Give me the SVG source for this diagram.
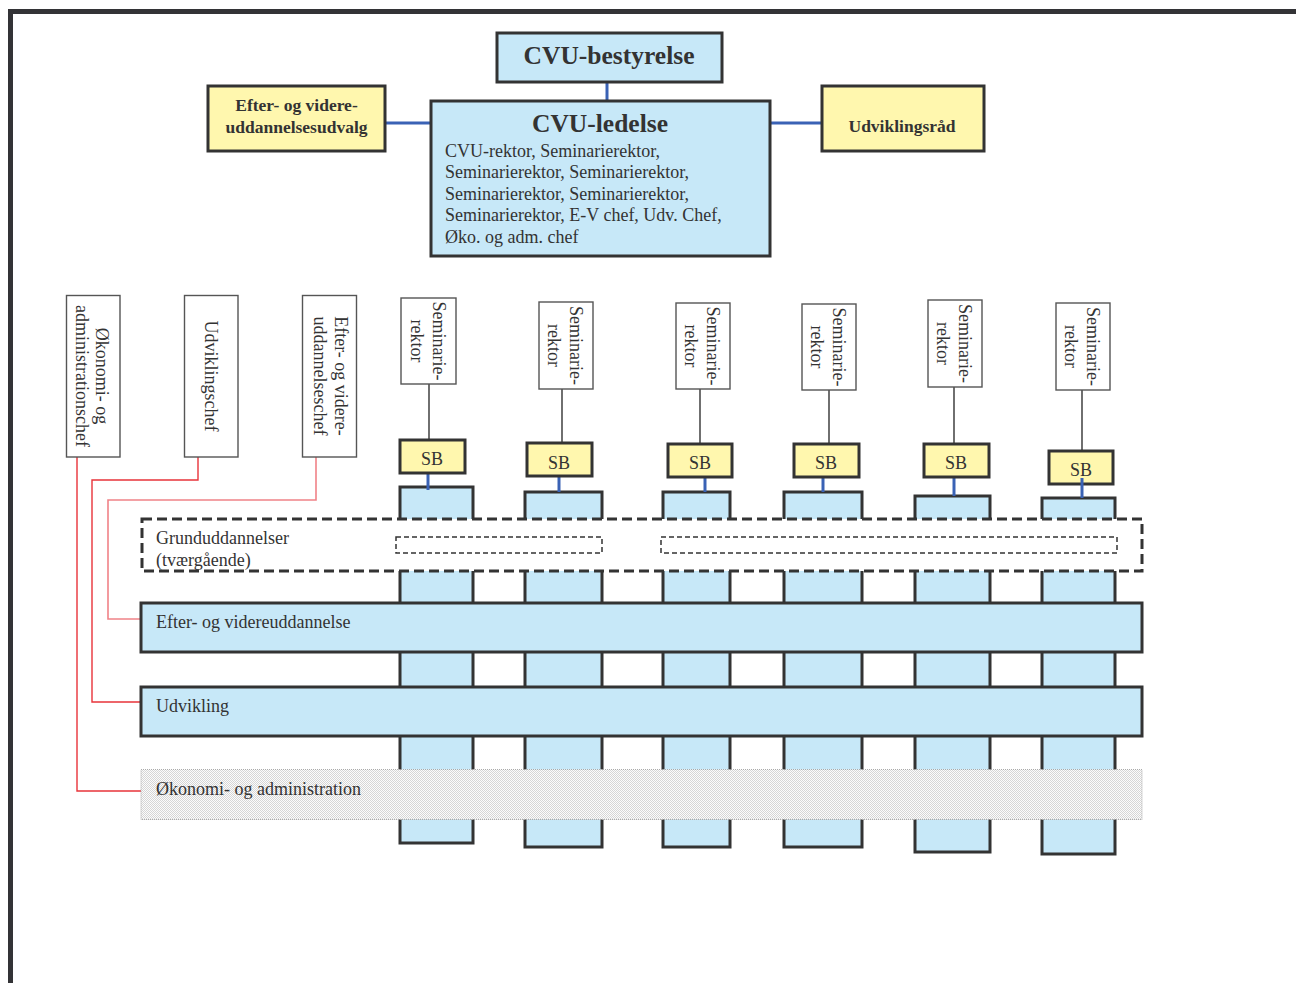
<svg xmlns="http://www.w3.org/2000/svg" width="1296" height="983" viewBox="0 0 1296 983">
<style>
.frame{fill:none;stroke:#333336;stroke-width:5}
.yel{fill:#fff7ae;stroke:#333;stroke-width:3}
.blu{fill:#c7e8f8;stroke:#333;stroke-width:3}
.thin{fill:#fff;stroke:#555;stroke-width:1.4}
.blue-ln{stroke:#3a62b5;stroke-width:3;fill:none}
.gray-ln{stroke:#333;stroke-width:1.4;fill:none}
.red-ln{stroke:#e8333a;stroke-width:1.4;fill:none}
.pink-ln{stroke:#f08288;stroke-width:1.6;fill:none}
.t{font-family:"Liberation Serif","Times New Roman",serif;fill:#333;font-size:18px}
.b{font-family:"Liberation Serif","Times New Roman",serif;fill:#333;font-weight:bold}
.r{font-family:"Liberation Serif","Times New Roman",serif;fill:#333;font-size:18px;text-anchor:middle}
.c{text-anchor:middle}
</style>
<defs>
<pattern id="stip" width="2" height="2" patternUnits="userSpaceOnUse">
<rect width="2" height="2" fill="#fcfcfc"/>
<rect width="1" height="1" fill="#d6d6d6"/>
<rect x="1" y="1" width="1" height="1" fill="#d6d6d6"/>
</pattern>
</defs>
<rect width="1296" height="983" fill="#fff"/>
<path class="frame" d="M10.5,983 V11.5 H1296"/>

<g id="connectors">
<line class="blue-ln" x1="607" y1="82" x2="607" y2="101"/>
<line class="blue-ln" x1="385" y1="123" x2="431" y2="123"/>
<line class="blue-ln" x1="770" y1="123" x2="822" y2="123"/>
<line class="gray-ln" x1="429" y1="384" x2="429" y2="439"/>
<line class="gray-ln" x1="562" y1="389" x2="562" y2="446"/>
<line class="gray-ln" x1="700" y1="389" x2="700" y2="446"/>
<line class="gray-ln" x1="829" y1="390" x2="829" y2="446"/>
<line class="gray-ln" x1="954" y1="387" x2="954" y2="446"/>
<line class="gray-ln" x1="1082" y1="390" x2="1082" y2="452"/>
<path class="red-ln" d="M77,457 V791 H141"/>
<path class="red-ln" d="M198,457 V480 H92 V702 H141"/>
<path class="pink-ln" d="M316,457 V500 H108 V619 H141"/>
</g>

<g id="columns">
<rect class="blu" x="400" y="487" width="73" height="356"/>
<rect class="blu" x="525" y="492" width="77" height="355"/>
<rect class="blu" x="663" y="492" width="67" height="355"/>
<rect class="blu" x="784" y="492" width="78" height="355"/>
<rect class="blu" x="915" y="496" width="75" height="356"/>
<rect class="blu" x="1042" y="498" width="73" height="356"/>
</g>

<g id="sb-links">
<line class="blue-ln" x1="428" y1="473" x2="428" y2="490"/>
<line class="blue-ln" x1="559" y1="476" x2="559" y2="492"/>
<line class="blue-ln" x1="705" y1="477" x2="705" y2="492"/>
<line class="blue-ln" x1="823" y1="477" x2="823" y2="492"/>
<line class="blue-ln" x1="954" y1="477" x2="954" y2="496"/>
</g>

<g id="grunduddannelser">
<rect x="142" y="519" width="1000" height="52" fill="#fff" stroke="#333" stroke-width="3" stroke-dasharray="10 5"/>
<rect x="396" y="537" width="206" height="16" fill="none" stroke="#333" stroke-width="1.5" stroke-dasharray="5 3"/>
<rect x="661" y="537" width="456" height="16" fill="none" stroke="#333" stroke-width="1.5" stroke-dasharray="5 3"/>
<text class="t" x="156" y="544">Grunduddannelser</text>
<text class="t" x="156" y="566">(tværgående)</text>
</g>
<g id="efter-band">
<rect class="blu" x="141" y="603" width="1001" height="49"/>
<text class="t" x="156" y="628">Efter- og videreuddannelse</text>
</g>
<g id="udvikling-band">
<rect class="blu" x="141" y="687" width="1001" height="49"/>
<text class="t" x="156" y="712">Udvikling</text>
</g>
<g id="okonomi-band">
<rect x="141" y="769.5" width="1001" height="50" fill="url(#stip)" stroke="#aaa" stroke-width="1" stroke-dasharray="1 1"/>
<text class="t" x="156" y="795">Økonomi- og administration</text>
</g>

<g id="cvu-bestyrelse">
<rect class="blu" x="497" y="33" width="225" height="49"/>
<text class="b c" x="609" y="64" font-size="25.5">CVU-bestyrelse</text>
</g>
<g id="cvu-ledelse">
<rect class="blu" x="431" y="101" width="339" height="155"/>
<text class="b c" x="600" y="132" font-size="25.5">CVU-ledelse</text>
<text class="t" x="445" y="157">CVU-rektor, Seminarierektor,</text>
<text class="t" x="445" y="178">Seminarierektor, Seminarierektor,</text>
<text class="t" x="445" y="200">Seminarierektor, Seminarierektor,</text>
<text class="t" x="445" y="221">Seminarierektor, E-V chef, Udv. Chef,</text>
<text class="t" x="445" y="243">Øko. og adm. chef</text>
</g>
<g id="efter-udvalg">
<rect class="yel" x="208" y="86" width="177" height="65"/>
<text class="b c" x="296.5" y="111" font-size="17.5">Efter- og videre-</text>
<text class="b c" x="296.5" y="133" font-size="17.5">uddannelsesudvalg</text>
</g>
<g id="udviklingsraad">
<rect class="yel" x="822" y="86" width="162" height="65"/>
<text class="b c" x="902" y="132" font-size="17.5">Udviklingsråd</text>
</g>

<g id="okonomichef">
<rect class="thin" x="66.5" y="295.5" width="53.5" height="161.5"/>
<text class="r" transform="translate(96,376) rotate(90)">Økonomi- og</text>
<text class="r" transform="translate(76,376) rotate(90)">administrationschef</text>
</g>
<g id="udviklingschef">
<rect class="thin" x="184.5" y="295.5" width="53.5" height="161.5"/>
<text class="r" transform="translate(205,376) rotate(90)">Udviklingschef</text>
</g>
<g id="efterchef">
<rect class="thin" x="302.5" y="295.5" width="54" height="161.5"/>
<text class="r" transform="translate(335,376) rotate(90)">Efter- og videre-</text>
<text class="r" transform="translate(314,376) rotate(90)">uddannelseschef</text>
</g>

<g id="rektor1">
<rect class="thin" x="401" y="298" width="55" height="86"/>
<text class="r" transform="translate(433,341) rotate(90)">Seminarie-</text>
<text class="r" transform="translate(411,341) rotate(90)">rektor</text>
</g>
<g id="rektor2">
<rect class="thin" x="539" y="302" width="54" height="87"/>
<text class="r" transform="translate(570,345.5) rotate(90)">Seminarie-</text>
<text class="r" transform="translate(548,345.5) rotate(90)">rektor</text>
</g>
<g id="rektor3">
<rect class="thin" x="676" y="303" width="54" height="86"/>
<text class="r" transform="translate(707,346) rotate(90)">Seminarie-</text>
<text class="r" transform="translate(685,346) rotate(90)">rektor</text>
</g>
<g id="rektor4">
<rect class="thin" x="802" y="304" width="54" height="86"/>
<text class="r" transform="translate(833,347) rotate(90)">Seminarie-</text>
<text class="r" transform="translate(811,347) rotate(90)">rektor</text>
</g>
<g id="rektor5">
<rect class="thin" x="928" y="300" width="54" height="87"/>
<text class="r" transform="translate(959,343.5) rotate(90)">Seminarie-</text>
<text class="r" transform="translate(937,343.5) rotate(90)">rektor</text>
</g>
<g id="rektor6">
<rect class="thin" x="1056" y="303" width="54" height="87"/>
<text class="r" transform="translate(1087,346.5) rotate(90)">Seminarie-</text>
<text class="r" transform="translate(1065,346.5) rotate(90)">rektor</text>
</g>

<g id="sb1"><rect class="yel" x="400" y="440" width="65" height="33"/><text class="t c" x="432" y="465">SB</text></g>
<g id="sb2"><rect class="yel" x="527" y="443" width="65" height="33"/><text class="t c" x="559" y="469">SB</text></g>
<g id="sb3"><rect class="yel" x="668" y="444" width="64" height="33"/><text class="t c" x="700" y="469">SB</text></g>
<g id="sb4"><rect class="yel" x="794" y="444" width="65" height="33"/><text class="t c" x="826" y="469">SB</text></g>
<g id="sb5"><rect class="yel" x="924" y="444" width="65" height="33"/><text class="t c" x="956" y="469">SB</text></g>
<g id="sb6"><rect class="yel" x="1049" y="451" width="64" height="33"/><text class="t c" x="1081" y="476">SB</text></g>
<line class="blue-ln" x1="1082" y1="478" x2="1082" y2="498"/>
</svg>
